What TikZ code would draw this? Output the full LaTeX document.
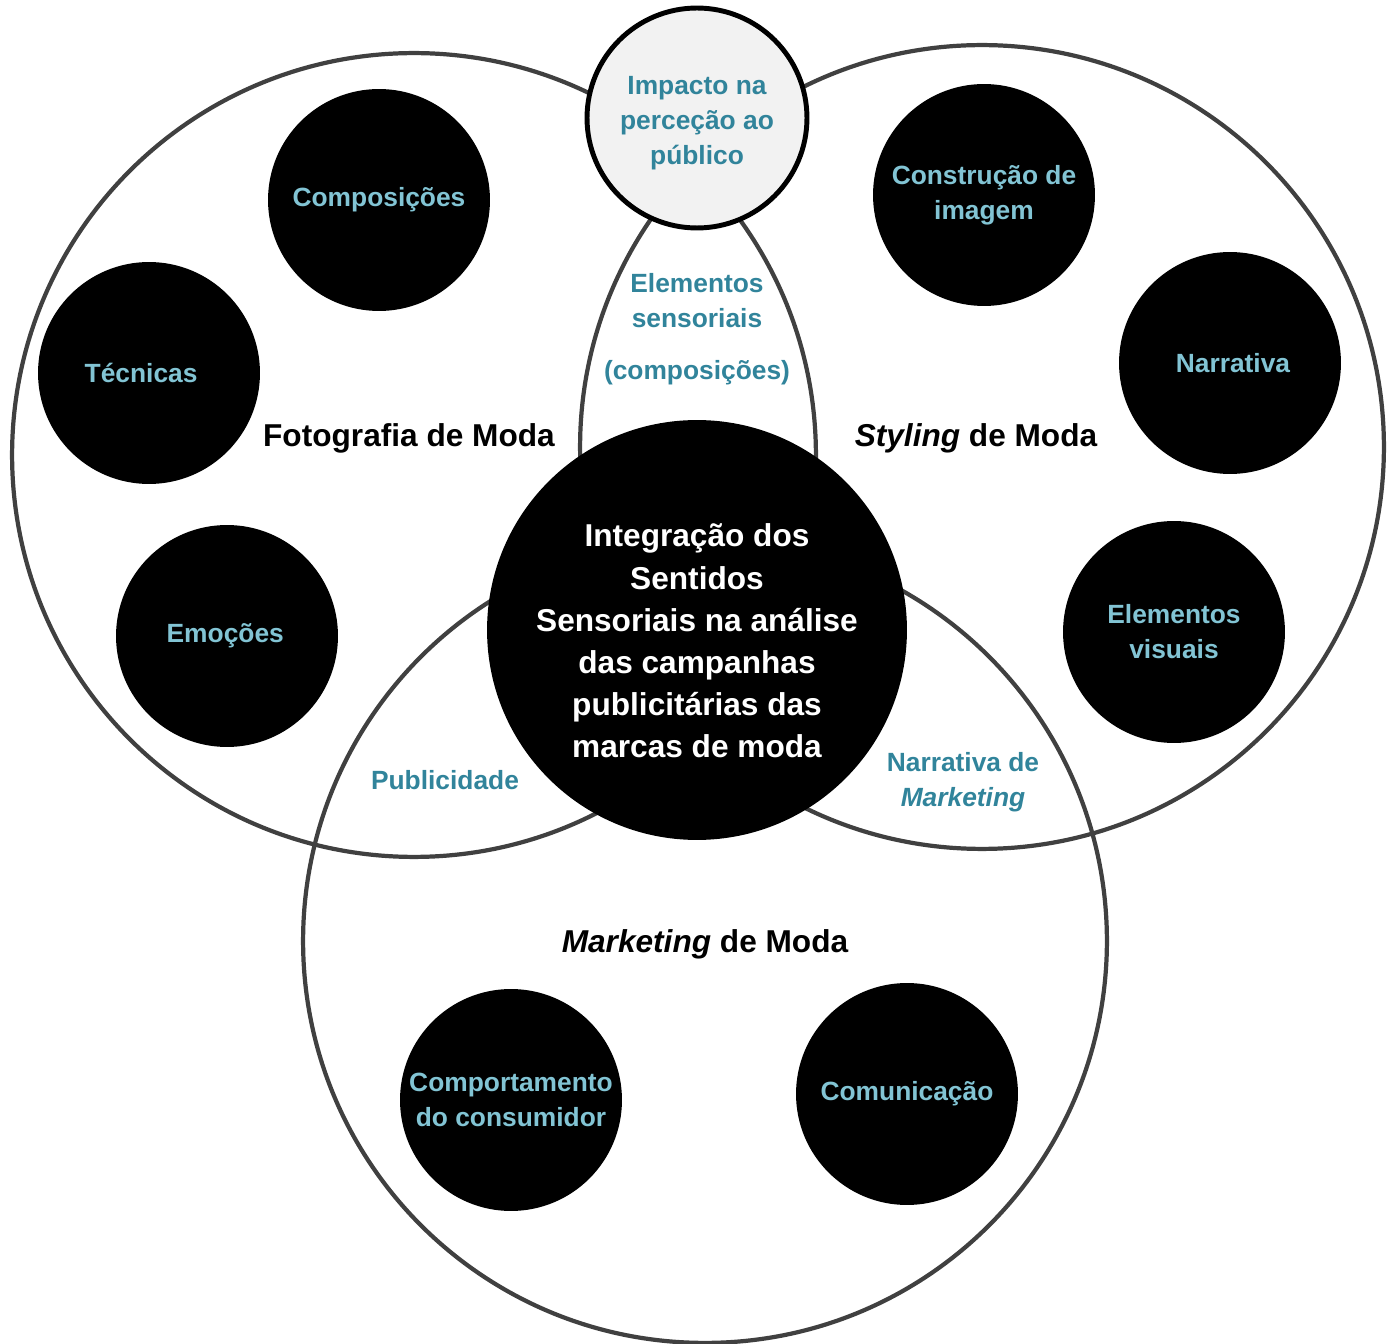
\documentclass[tikz,border=0pt]{standalone}
\usepackage{fontspec}
\setmainfont{Liberation Sans}
\usepackage{tikz}
\usetikzlibrary{positioning}
\definecolor{tealtext}{RGB}{49,132,155}
\definecolor{lighttext}{RGB}{130,196,212}
\definecolor{ringgray}{RGB}{64,64,64}
\definecolor{topfill}{RGB}{242,242,242}
\tikzset{
    ring/.style={draw=ringgray, line width=2.4pt, circle, minimum size=16.08cm, inner sep=0pt},
    topic/.style={circle, fill=black, minimum size=4.44cm, inner sep=0pt, align=center,
        text=lighttext, font=\bfseries\fontsize{15}{20}\selectfont},
    tag/.style={align=center, text=tealtext, font=\bfseries\fontsize{15}{20}\selectfont},
    title/.style={align=center, font=\bfseries\fontsize{18}{24}\selectfont}
}

\begin{document}
\begin{tikzpicture}[
            x=0.02cm, y=-0.02cm,
            core/.style={circle, fill=black, minimum size=8.4cm, inner sep=0pt},
            coretext/.style={align=center, text=white, font=\bfseries\fontsize{18}{24}\selectfont},
            impact/.style={circle, draw=black, line width=2.8pt, fill=topfill, minimum size=4.4cm, inner sep=0pt}
        ]
            \useasboundingbox (0,0) rectangle (1394,1344);
            
            % Areas
            \node[ring] (foto) at (414,455) {};
            \node[ring] (styling) at (982,447) {};
            \node[ring] (marketing) at (705,941) {};
            
            % Area titles
            \node[title] (fototitle) at (409,438) {Fotografia de Moda};
            \node[title] (stylingtitle) at (976,438) {\textit{Styling} de Moda};
            \node[title] (marketingtitle) at (705,944) {\textit{Marketing} de Moda};
            
            % Fotografia de Moda
            \node[topic] (composicoes) at (379,200) {Composições};
            \node[topic] (tecnicas) at (149,373) {\hspace*{-9pt}Técnicas};
            \node[topic] (emocoes) at (227,636) {\hspace*{-2pt}Emoções};
            
            % Styling de Moda
            \node[topic] (imagem) at (984,195) {Construção de\\imagem};
            \node[topic] (narrativa) at (1230,363) {\hspace*{3.4pt}Narrativa};
            \node[topic] (visuais) at (1174,632) {Elementos\\visuais};
            
            % Marketing de Moda
            \node[topic] (comportamento) at (511,1100) {Comportamento\\do consumidor};
            \node[topic] (comunicacao) at (907,1094) {Comunicação};
            
            % Overlaps
            \node[tag] (sensoriais) at (697,329) {Elementos\\sensoriais\\[9.6pt](composições)};
            \node[tag] (publicidade) at (445,780) {Publicidade};
            \node[tag] (narrmarketing) at (963,782) {Narrativa de\\\textit{Marketing}};
            
            % Centre and top
            \node[core] (centro) at (697,630) {};
            \node[coretext] (centrotext) at (697,641) {Integração dos\\Sentidos\\Sensoriais na análise\\das campanhas\\publicitárias das\\marcas de moda};
            \node[impact] (impacto) at (697,118) {};
            \node[tag] (impactotext) at (697,123) {Impacto na\\perceção ao\\público};
            
        \end{tikzpicture}
\end{document}
